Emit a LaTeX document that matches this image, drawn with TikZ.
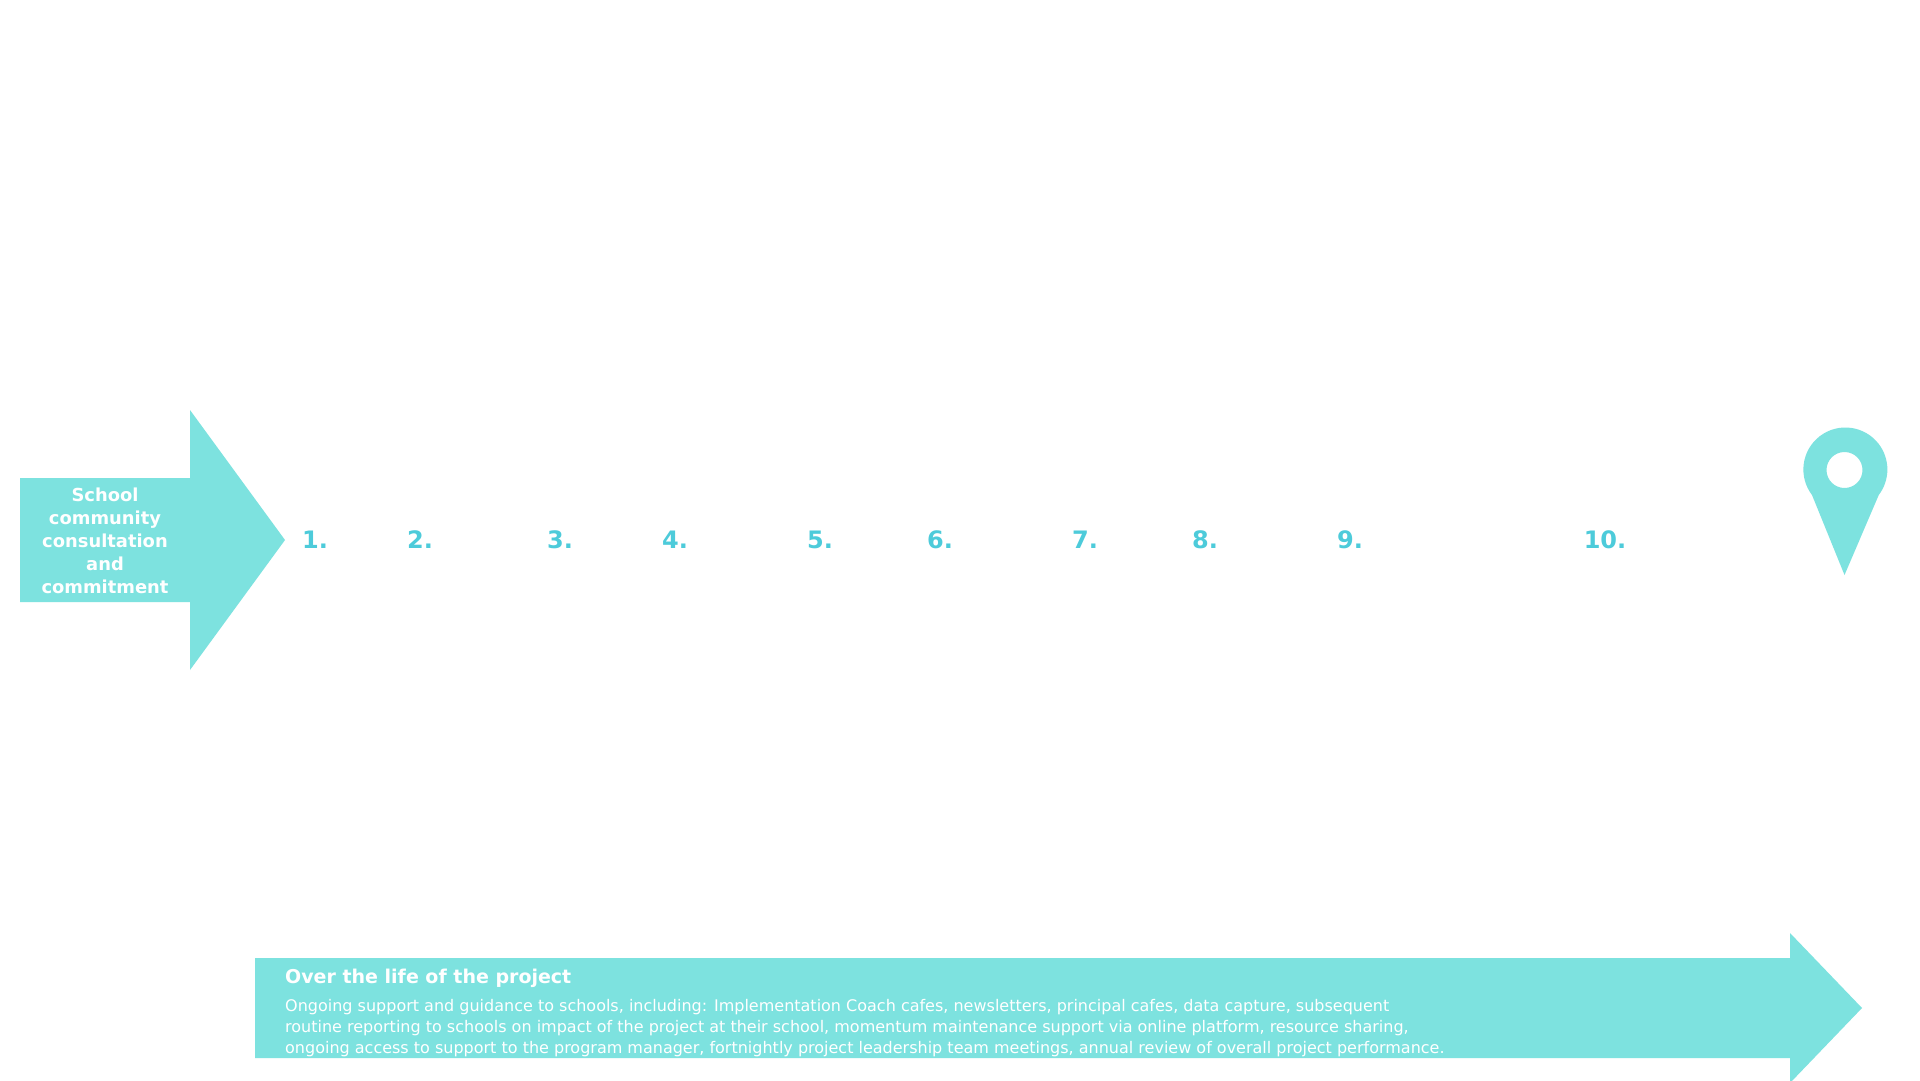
\documentclass[tikz,border=0pt]{standalone}
\usepackage{fontspec}
\setmainfont{DejaVu Sans}
\definecolor{arrowfill}{HTML}{7DE2DF}
\definecolor{numcol}{HTML}{4DCBDA}
\tikzset{
  shapefill/.style={fill=arrowfill,draw=none},
  stepnum/.style={text=numcol,font=\fontsize{24pt}{26pt}\selectfont\bfseries,inner sep=0pt,anchor=center},
  arrowlabel/.style={text=white,align=center,inner sep=0pt,font=\fontsize{17.9pt}{23pt}\selectfont\bfseries},
  titlelabel/.style={text=white,inner sep=0pt,anchor=west,font=\fontsize{19pt}{22pt}\selectfont\bfseries},
  bodylabel/.style={text=white,inner sep=0pt,anchor=west,align=left,font=\fontsize{16pt}{21pt}\selectfont}
}
\begin{document}
\begin{tikzpicture}[x=1pt,y=-1pt]
\useasboundingbox (0,0) rectangle (1920,1080);
\clip (0,0) rectangle (1920,1080);
\fill[white] (0,0) rectangle (1920,1080);
\fill[shapefill] (20,478) -- (190,478) -- (190,410) -- (285,540) -- (190,670) -- (190,602) -- (20,602) -- cycle;
\node[arrowlabel] (consult) at (105,540.4) {School\\community\\consultation\\and\\commitment};
\node[stepnum] (n1) at (315,540) {1.};
\node[stepnum] (n2) at (420,540) {2.};
\node[stepnum] (n3) at (560,540) {3.};
\node[stepnum] (n4) at (675,540) {4.};
\node[stepnum] (n5) at (820,540) {5.};
\node[stepnum] (n6) at (940,540) {6.};
\node[stepnum] (n7) at (1085,540) {7.};
\node[stepnum] (n8) at (1205,540) {8.};
\node[stepnum] (n9) at (1350,540) {9.};
\node[stepnum] (n10) at (1605,540) {10.};
\fill[shapefill,even odd rule] (1844.5,575) -- (1812,495) arc[start angle=217.4,end angle=-37.4,radius=42pt] -- cycle
  (1844.5,470) circle[radius=18pt];
\fill[shapefill] (255,958) -- (1790,958) -- (1790,933) -- (1862,1008) -- (1790,1083) -- (1790,1058) -- (255,1058) -- cycle;
\node[titlelabel] (title) at (285,978.5) {Over the life of the project};
\node[bodylabel] (body) at (285,1027.7) {Ongoing support and guidance to schools, including: Implementation Coach cafes, newsletters, principal cafes, data capture, subsequent\\routine reporting to schools on impact of the project at their school, momentum maintenance support via online platform, resource sharing,\\ongoing access to support to the program manager, fortnightly project leadership team meetings, annual review of overall project performance.};
\end{tikzpicture}
\end{document}
